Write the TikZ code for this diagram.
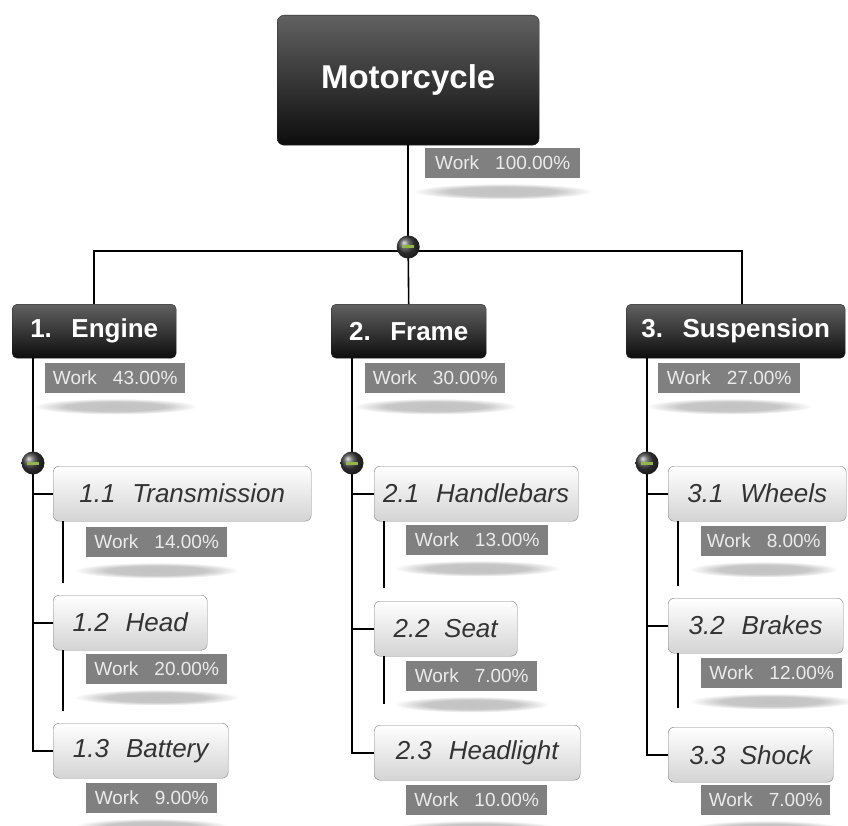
\documentclass[tikz,border=0pt]{standalone}
\usepackage{fontspec}
\setmainfont{Liberation Sans}
\usetikzlibrary{calc}
\definecolor{wbsgreen}{RGB}{145,180,75}
\definecolor{bargray}{RGB}{128,128,128}
\pgfdeclareradialshading{blob}{\pgfpoint{0bp}{0bp}}{color(0bp)=(black!24); color(15bp)=(black!22); color(25bp)=(white); color(50bp)=(white)}

\begin{document}
\begin{tikzpicture}[x=1pt, y=-1pt,
  rootbox/.style={anchor=north west, draw=black!85, rounded corners=7pt, top color=black!62, bottom color=black!95,
    text=white, font=\fontsize{33}{36}\selectfont\bfseries, inner sep=0pt},
  phasebox/.style={anchor=north west, draw=black!85, rounded corners=5pt, top color=black!62, bottom color=black!95,
    text=white, font=\fontsize{26}{30}\selectfont\bfseries, inner sep=0pt, minimum height=54pt},
  taskbox/.style={anchor=north west, draw=black!50, rounded corners=6pt, top color=white, bottom color=black!17,
    text=black!80, font=\fontsize{26}{30}\selectfont\itshape, inner sep=0pt, minimum height=55pt},
  workbar/.style={anchor=north west, fill=bargray, text=black!8, font=\fontsize{19}{21}\selectfont,
    inner sep=0pt, minimum height=30pt},
  toggle/.style={circle, inner sep=0pt, minimum size=23pt, ball color=black!75,
    path picture={\draw[wbsgreen, line width=3pt] ([xshift=-6pt]path picture bounding box.center) -- ([xshift=6pt]path picture bounding box.center);}},
  link/.style={draw=black, line width=1.6pt}
]
\useasboundingbox (0,0) rectangle (848,826);

% root
\node[rootbox, minimum width=262pt, minimum height=130pt] (root) at (277,15) {Motorcycle};
\node[workbar, minimum width=155pt] (w0) at (425,148) {Work\hspace{16pt}100.00\%};

% phases
\node[phasebox, minimum width=164pt] (eng) at (12,304)  {1.\hspace{0.75em}Engine};
\node[phasebox, minimum width=155pt] (frm) at (331,304) {2.\hspace{0.75em}Frame};
\node[phasebox, minimum width=219pt] (sus) at (626,304) {3.\hspace{0.75em}Suspension};

\node[workbar, minimum width=140pt] (w1) at (45,363)  {Work\hspace{16pt}43.00\%};
\node[workbar, minimum width=140pt] (w2) at (365,363) {Work\hspace{16pt}30.00\%};
\node[workbar, minimum width=142pt] (w3) at (658,363) {Work\hspace{16pt}27.00\%};

% tasks of 1
\node[taskbox, minimum width=258pt] (c11) at (53,466) {1.1\hspace{0.65em}Transmission};
\node[taskbox, minimum width=154pt] (c12) at (53,595) {1.2\hspace{0.65em}Head};
\node[taskbox, minimum width=175pt] (c13) at (53,723) {1.3\hspace{0.65em}Battery};
\node[workbar, minimum width=141pt] (w11) at (86,527) {Work\hspace{16pt}14.00\%};
\node[workbar, minimum width=141pt] (w12) at (86,654) {Work\hspace{16pt}20.00\%};
\node[workbar, minimum width=131pt] (w13) at (86,783) {Work\hspace{16pt}9.00\%};

% tasks of 2
\node[taskbox, minimum width=204pt] (c21) at (374,466) {2.1\hspace{0.65em}Handlebars};
\node[taskbox, minimum width=143pt] (c22) at (374,601) {2.2\hspace{0.55em}Seat};
\node[taskbox, minimum width=206pt] (c23) at (374,725) {2.3\hspace{0.65em}Headlight};
\node[workbar, minimum width=142pt] (w21) at (406,525) {Work\hspace{16pt}13.00\%};
\node[workbar, minimum width=131pt] (w22) at (406,661) {Work\hspace{16pt}7.00\%};
\node[workbar, minimum width=141pt] (w23) at (406,785) {Work\hspace{16pt}10.00\%};

% tasks of 3
\node[taskbox, minimum width=178pt] (c31) at (668,466) {3.1\hspace{0.65em}Wheels};
\node[taskbox, minimum width=175pt] (c32) at (668,598) {3.2\hspace{0.65em}Brakes};
\node[taskbox, minimum width=165pt] (c33) at (668,727) {3.3\hspace{0.55em}Shock};
\node[workbar, minimum width=125pt] (w31) at (701,526) {Work\hspace{16pt}8.00\%};
\node[workbar, minimum width=141pt] (w32) at (701,658) {Work\hspace{16pt}12.00\%};
\node[workbar, minimum width=129pt] (w33) at (701,785) {Work\hspace{16pt}7.00\%};

% shadows under the work bars
\foreach \w in {w0,w1,w2,w3,w11,w12,w13,w21,w22,w23,w31,w32,w33}
  \shade[shading=blob] let \p1=(\w.south west), \p2=(\w.south east) in
    ({(\x1+\x2)/2}, {\y1-13pt}) ellipse ({(\x2-\x1)/2+12pt} and 8pt);

% root to phases
\coordinate (hub) at (root.south |- 0,251);
\draw[link] (root.south) -- (hub);
\draw[link] (eng.north) |- (hub) -| ([xshift=6pt]sus.north);
\draw[link] (hub) -- (frm.north);
\node[toggle] (t0) at ([yshift=4pt]hub) {};

% phases to tasks
\foreach \p/\a/\b/\c/\n in {eng/c11/c12/c13/1, frm/c21/c22/c23/2, sus/c31/c32/c33/3} {
  \coordinate (s\n) at ([xshift=21pt]\p.south west);
  \draw[link] (s\n) |- (\c.west);
  \draw[link] (\a.west) -- (\a.west -| s\n);
  \draw[link] (\b.west) -- (\b.west -| s\n);
  \node[toggle] (t\n) at (s\n |- 0,463) {};
}

% stubs below the tasks
\foreach \c/\l in {c11/62, c12/61, c21/67, c22/48, c31/65, c32/55}
  \draw[link] ([xshift=10pt]\c.south west) -- ++(0,\l);
\end{tikzpicture}
\end{document}
